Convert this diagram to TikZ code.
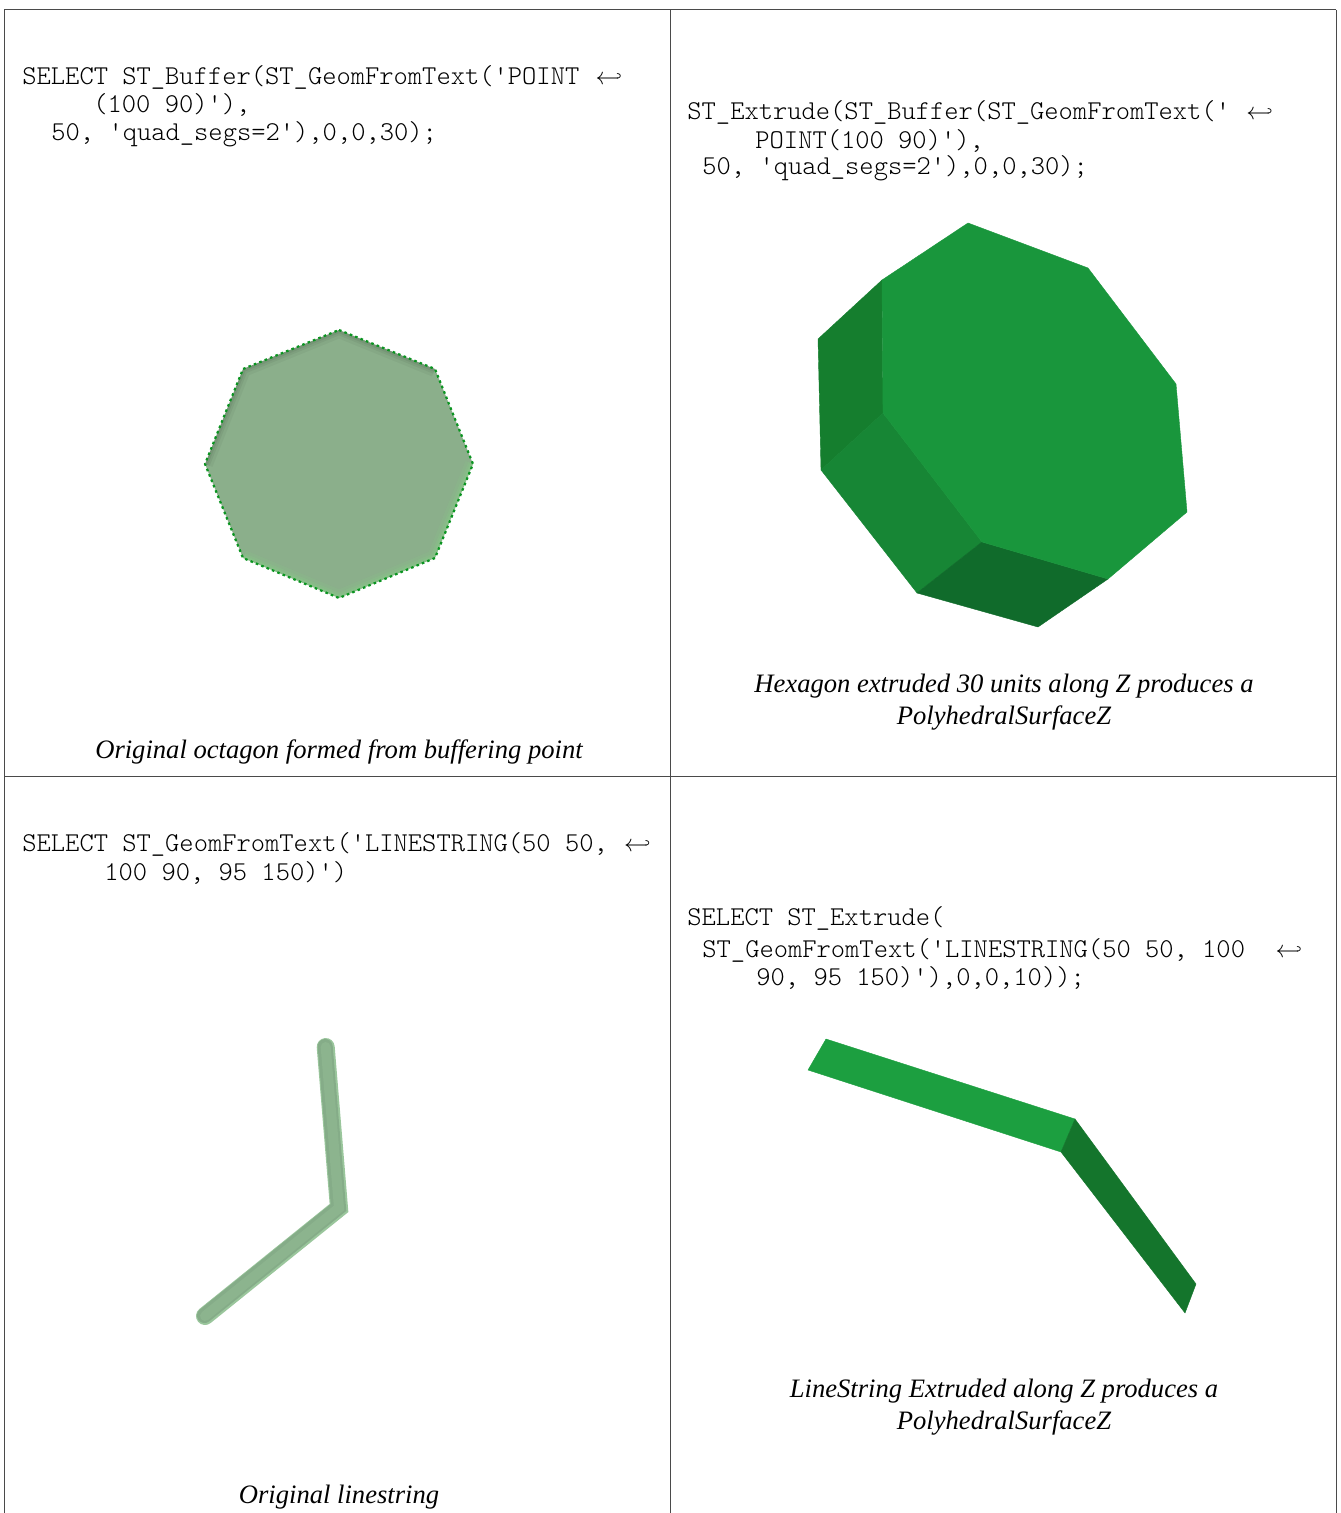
\documentclass[tikz,border=0pt]{standalone}
\usepackage{fontspec}
\setmainfont{Liberation Serif}
\usepackage{tikz}
\usetikzlibrary{positioning}
\definecolor{stgrid}{HTML}{4A4A4A}
\definecolor{stflat}{HTML}{8BAF8B}
\definecolor{stdots}{HTML}{0A9420}
\definecolor{stline}{HTML}{8CB48E}
\definecolor{stlineA}{HTML}{9AC69C}
\definecolor{stlineB}{HTML}{85AC88}
\definecolor{sttop}{HTML}{19963C}
\definecolor{stleft}{HTML}{157E2E}
\definecolor{stlow}{HTML}{178635}
\definecolor{stbase}{HTML}{106B2B}
\definecolor{stribA}{HTML}{1C9F40}
\definecolor{stribB}{HTML}{14752C}
\newcommand{\sq}{\textquotesingle}
\newcommand{\wrapmark}{\hspace{1pt}{\fontsize{12.6}{14}\selectfont$\hookleftarrow$}}
\newcommand{\octagonpath}{(339,330) -- (435,369) -- (473,464) -- (435,558) -- (339,598)
    -- (243,558) -- (205,464) -- (243,369) -- cycle}
\begin{document}
\begin{tikzpicture}[x=0.5pt, y=-0.5pt,
  codetext/.style={anchor=base west, inner sep=0pt, align=left,
    font=\fontsize{13.6}{14}\fontseries{l}\ttfamily\selectfont},
  caption/.style={anchor=base, inner sep=0pt, align=center,
    font=\fontsize{13.3}{15.8}\itshape\selectfont},
  gridline/.style={draw=stgrid, line width=0.5pt},
  face/.style={fill=#1, draw=#1, line width=0.2pt},
  polyline/.style={line width=#1, line cap=round, miter limit=10},
]
  \useasboundingbox (0,0) rectangle (1340,1513);

  % Table
  \draw[gridline] (1336,10) -- (4,10) -- (4,1513);
  \draw[gridline] (1336,10) -- (1336,1513);
  \draw[gridline] (670.5,10) -- (670.5,1513);
  \draw[gridline] (4,776.5) -- (1336,776.5);

  % Top left
  \node[codetext] (codeA) at (22,85) {SELECT ST\_Buffer(ST\_GeomFromText(\sq POINT \wrapmark};
  \node[codetext] (codeAb) at (93,113) {(100 90)\sq),};
  \node[codetext] (codeAc) at (51,141) {50, \sq quad\_segs=2\sq),0,0,30);};
  \fill[stflat] \octagonpath;
  \begin{scope}
    \clip \octagonpath;
    \foreach \w/\o in {8pt/0.04, 5pt/0.05, 3pt/0.06} {
      \draw[black, line width=\w, opacity=\o] (205,464) -- (243,369) -- (339,330) -- (435,369);
      \draw[green!50!white, line width=\w, opacity=\o*1.5] (243,558) -- (339,598) -- (435,558) -- (473,464);
    }
  \end{scope}
  \draw[stdots, line width=1.1pt, dash pattern=on 1.3pt off 1.6pt] \octagonpath;
  \node[caption] (capA) at (339,758) {Original octagon formed from buffering point};

  % Top right
  \node[codetext] (codeB) at (687,120) {ST\_Extrude(ST\_Buffer(ST\_GeomFromText(\sq{} \wrapmark};
  \node[codetext] (codeBb) at (755,149) {POINT(100 90)\sq),};
  \node[codetext] (codeBc) at (702,175) {50, \sq quad\_segs=2\sq),0,0,30);};
  \path[face=stleft] (882,280) -- (883,413) -- (821,470) -- (818,339) -- cycle;
  \path[face=stlow] (883,413) -- (982,542) -- (917,593) -- (821,470) -- cycle;
  \path[face=stbase] (982,542) -- (1108,579) -- (1038,627) -- (917,593) -- cycle;
  \path[face=sttop] (968,223) -- (1088,268) -- (1176,384) -- (1187,512) -- (1108,579)
    -- (982,542) -- (883,413) -- (882,280) -- cycle;
  \node[caption] (capB) at (1004,724) {Hexagon extruded 30 units along Z produces a\\PolyhedralSurfaceZ};

  % Bottom left
  \node[codetext] (codeC) at (22,851) {SELECT ST\_GeomFromText(\sq LINESTRING(50 50, \wrapmark};
  \node[codetext] (codeCb) at (104,880) {100 90, 95 150)\sq)};
  \draw[stlineA, polyline=9pt] (325.7,1047) -- (339,1208) -- (205,1316);
  \draw[stlineB, polyline=7.5pt] (325.2,1046.5) -- (338.5,1207.5) -- (204.5,1315.5);
  \draw[stline, polyline=5pt] (325.7,1047) -- (339,1208) -- (205,1316);
  \node[caption] (capC) at (339,1503) {Original linestring};

  % Bottom right
  \node[codetext] (codeD) at (687,925) {SELECT ST\_Extrude(};
  \node[codetext] (codeDb) at (702,957) {ST\_GeomFromText(\sq LINESTRING(50 50, 100\ \ \wrapmark};
  \node[codetext] (codeDc) at (756,985) {90, 95 150)\sq),0,0,10));};
  \path[face=stribA] (826,1039) -- (1075,1119) -- (1061,1152) -- (808,1070) -- cycle;
  \path[face=stribB] (1075,1119) -- (1196,1284) -- (1185,1313) -- (1061,1152) -- cycle;
  \node[caption] (capD) at (1004,1429) {LineString Extruded along Z produces a\\PolyhedralSurfaceZ};
\end{tikzpicture}
\end{document}
